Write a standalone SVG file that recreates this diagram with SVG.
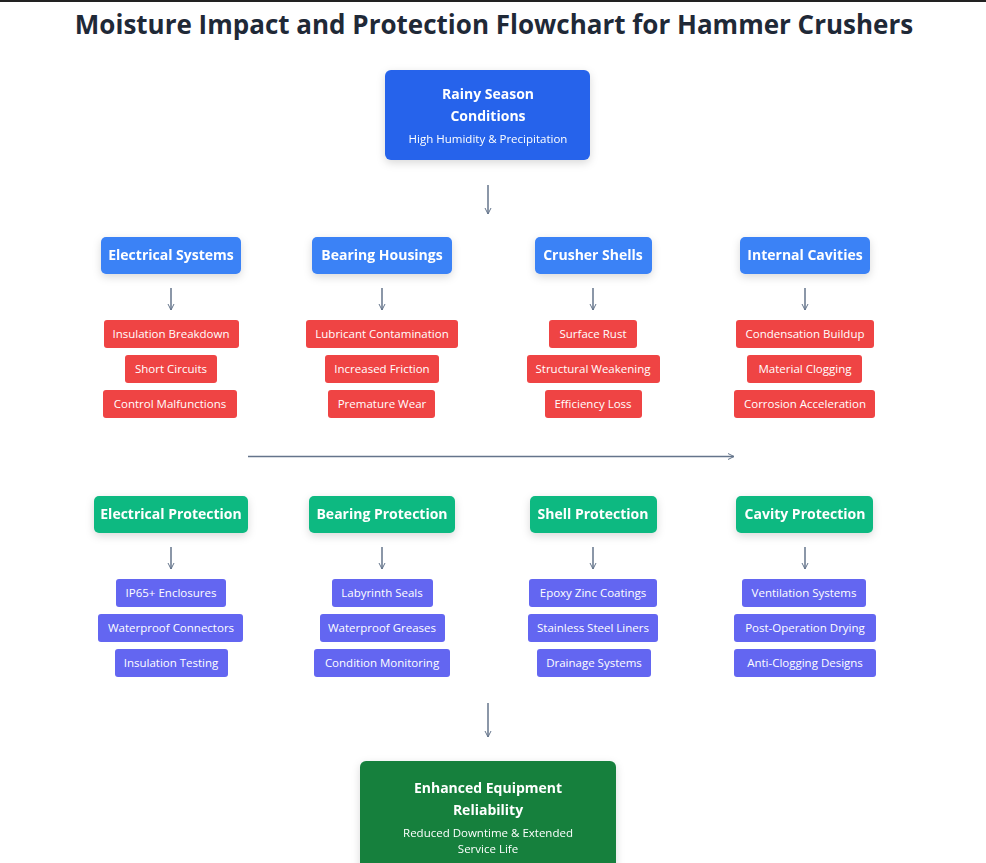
<svg xmlns="http://www.w3.org/2000/svg" width="986" height="863" viewBox="0 0 986 863">
<style>
text{font-family:"Open Sans","Noto Sans","Liberation Sans",sans-serif;fill:#fff;text-anchor:middle}
.t{fill:#1f2937;font-size:26px;font-weight:700}
.h{font-size:14px;font-weight:700}
.s{font-size:11.5px}
.c{stroke:#64748b;stroke-width:1.5;fill:none;marker-end:url(#a)}
.blue{fill:#3b82f6}.red{fill:#ef4444}.grn{fill:#10b981}.pur{fill:#6366f1}
</style>
<defs>
<marker id="a" markerWidth="8" markerHeight="8" refX="6" refY="4" orient="auto" markerUnits="userSpaceOnUse"><path d="M0,1 L6,4 L0,7" fill="none" stroke="#64748b" stroke-width="1"/></marker>
<filter id="sh" x="-20%" y="-20%" width="140%" height="160%"><feDropShadow dx="0" dy="3" stdDeviation="4" flood-opacity="0.15"/></filter>
</defs>
<rect width="986" height="863" fill="#fff"/>
<rect width="986" height="2" fill="#222"/>
<text class="t" x="494" y="34">Moisture Impact and Protection Flowchart for Hammer Crushers</text>
<g id="connectors">
<path class="c" d="M488 185V214"/>
<path class="c" d="M171 288V310"/><path class="c" d="M382 288V310"/><path class="c" d="M593 288V310"/><path class="c" d="M805 288V310"/>
<path class="c" d="M248 456.5H734" stroke-width="2"/>
<path class="c" d="M171 547V569"/><path class="c" d="M382 547V569"/><path class="c" d="M593 547V569"/><path class="c" d="M805 547V569"/>
<path class="c" d="M488 703V737"/>
</g>
<g id="rain" filter="url(#sh)"><rect x="385" y="70" width="205" height="90" rx="6" fill="#2563eb"/>
<text class="h" x="488" y="99">Rainy Season</text><text class="h" x="488" y="121">Conditions</text><text class="s" x="488" y="143">High Humidity &amp; Precipitation</text></g>
<g id="elec" filter="url(#sh)"><rect class="blue" x="101" y="237" width="140" height="37" rx="5"/><text class="h" x="171" y="260">Electrical Systems</text></g>
<g id="bear" filter="url(#sh)"><rect class="blue" x="312" y="237" width="140" height="37" rx="5"/><text class="h" x="382" y="260">Bearing Housings</text></g>
<g id="shell" filter="url(#sh)"><rect class="blue" x="535" y="237" width="117" height="37" rx="5"/><text class="h" x="593" y="260">Crusher Shells</text></g>
<g id="cav" filter="url(#sh)"><rect class="blue" x="740" y="237" width="130" height="37" rx="5"/><text class="h" x="805" y="260">Internal Cavities</text></g>
<g id="elec-effects">
<rect class="red" x="104" y="320" width="135" height="28" rx="3"/><text class="s" x="171" y="338">Insulation Breakdown</text>
<rect class="red" x="125" y="355" width="92" height="28" rx="3"/><text class="s" x="171" y="373">Short Circuits</text>
<rect class="red" x="103" y="390" width="134" height="28" rx="3"/><text class="s" x="170" y="408">Control Malfunctions</text></g>
<g id="bear-effects">
<rect class="red" x="306" y="320" width="152" height="28" rx="3"/><text class="s" x="382" y="338">Lubricant Contamination</text>
<rect class="red" x="325" y="355" width="114" height="28" rx="3"/><text class="s" x="382" y="373">Increased Friction</text>
<rect class="red" x="328" y="390" width="107" height="28" rx="3"/><text class="s" x="382" y="408">Premature Wear</text></g>
<g id="shell-effects">
<rect class="red" x="549" y="320" width="88" height="28" rx="3"/><text class="s" x="593" y="338">Surface Rust</text>
<rect class="red" x="527" y="355" width="133" height="28" rx="3"/><text class="s" x="593" y="373">Structural Weakening</text>
<rect class="red" x="545" y="390" width="97" height="28" rx="3"/><text class="s" x="593" y="408">Efficiency Loss</text></g>
<g id="cav-effects">
<rect class="red" x="736" y="320" width="138" height="28" rx="3"/><text class="s" x="805" y="338">Condensation Buildup</text>
<rect class="red" x="747" y="355" width="115" height="28" rx="3"/><text class="s" x="805" y="373">Material Clogging</text>
<rect class="red" x="734" y="390" width="141" height="28" rx="3"/><text class="s" x="805" y="408">Corrosion Acceleration</text></g>
<g id="eprot" filter="url(#sh)"><rect class="grn" x="94" y="496" width="154" height="37" rx="5"/><text class="h" x="171" y="519">Electrical Protection</text></g>
<g id="bprot" filter="url(#sh)"><rect class="grn" x="309" y="496" width="146" height="37" rx="5"/><text class="h" x="382" y="519">Bearing Protection</text></g>
<g id="sprot" filter="url(#sh)"><rect class="grn" x="530" y="496" width="127" height="37" rx="5"/><text class="h" x="593" y="519">Shell Protection</text></g>
<g id="cprot" filter="url(#sh)"><rect class="grn" x="736" y="496" width="137" height="37" rx="5"/><text class="h" x="805" y="519">Cavity Protection</text></g>
<g id="eprot-items">
<rect class="pur" x="116" y="579" width="110" height="28" rx="3"/><text class="s" x="171" y="597">IP65+ Enclosures</text>
<rect class="pur" x="98" y="614" width="145" height="28" rx="3"/><text class="s" x="171" y="632">Waterproof Connectors</text>
<rect class="pur" x="115" y="649" width="113" height="28" rx="3"/><text class="s" x="171" y="667">Insulation Testing</text></g>
<g id="bprot-items">
<rect class="pur" x="332" y="579" width="101" height="28" rx="3"/><text class="s" x="382" y="597">Labyrinth Seals</text>
<rect class="pur" x="320" y="614" width="125" height="28" rx="3"/><text class="s" x="382" y="632">Waterproof Greases</text>
<rect class="pur" x="314" y="649" width="136" height="28" rx="3"/><text class="s" x="382" y="667">Condition Monitoring</text></g>
<g id="sprot-items">
<rect class="pur" x="529" y="579" width="128" height="28" rx="3"/><text class="s" x="593" y="597">Epoxy Zinc Coatings</text>
<rect class="pur" x="528" y="614" width="130" height="28" rx="3"/><text class="s" x="593" y="632">Stainless Steel Liners</text>
<rect class="pur" x="537" y="649" width="114" height="28" rx="3"/><text class="s" x="594" y="667">Drainage Systems</text></g>
<g id="cprot-items">
<rect class="pur" x="742" y="579" width="124" height="28" rx="3"/><text class="s" x="804" y="597">Ventilation Systems</text>
<rect class="pur" x="734" y="614" width="142" height="28" rx="3"/><text class="s" x="805" y="632">Post-Operation Drying</text>
<rect class="pur" x="734" y="649" width="142" height="28" rx="3"/><text class="s" x="805" y="667">Anti-Clogging Designs</text></g>
<g id="result" filter="url(#sh)"><rect x="360" y="761" width="256" height="115" rx="6" fill="#15803d"/>
<text class="h" x="488" y="793">Enhanced Equipment</text><text class="h" x="488" y="815">Reliability</text>
<text class="s" x="488" y="837">Reduced Downtime &amp; Extended</text><text class="s" x="488" y="853">Service Life</text></g>
</svg>
